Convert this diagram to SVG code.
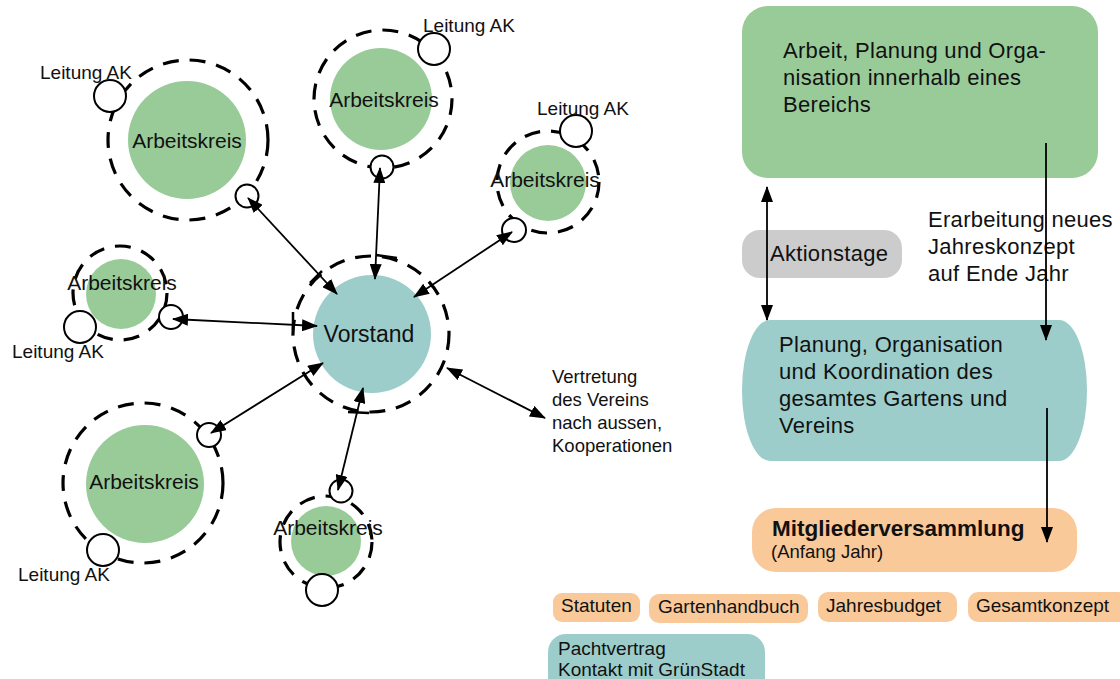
<svg xmlns="http://www.w3.org/2000/svg" width="1120" height="679" viewBox="0 0 1120 679">
<style>
.t{font-family:"Liberation Sans",Arial,sans-serif;fill:#111}
.akt{font-size:21px;text-anchor:middle}
.lt{font-size:19px}
.big{font-size:22px;letter-spacing:0.3px}
.sm{font-size:19px}
.ak{fill:#99cb99}
.ring{fill:none;stroke:#000;stroke-width:3.2;stroke-dasharray:16 11}
.ball{fill:#fff;stroke:#000;stroke-width:2}
.con{stroke:#000;stroke-width:1.8;fill:none}
.tick{stroke:#000;stroke-width:2.5;fill:none}
.or{fill:#f9c99a}
.te{fill:#9ccdcb}
</style>
<defs>
<marker id="ah" viewBox="0 0 16 12" refX="15" refY="6" markerWidth="16" markerHeight="12" markerUnits="userSpaceOnUse" orient="auto-start-reverse">
<path d="M0,0 L16,6 L0,12 Z" fill="#000"/>
</marker>
</defs>
<rect width="1120" height="679" fill="#fff"/>

<g id="ak1">
<circle cx="188" cy="140" r="80" class="ring"/>
<circle cx="187" cy="140" r="59" class="ak"/>
<text x="187" y="148" class="t akt">Arbeitskreis</text>
<circle cx="110" cy="96" r="16" class="ball"/>
<text x="40" y="79" class="t lt">Leitung AK</text>
<circle cx="247" cy="196" r="11.5" class="ball"/>
</g>

<g id="ak2">
<circle cx="383" cy="99" r="69" class="ring"/>
<circle cx="381" cy="99" r="51" class="ak"/>
<text x="384" y="107" class="t akt">Arbeitskreis</text>
<circle cx="434" cy="49" r="16" class="ball"/>
<text x="423" y="32" class="t lt">Leitung AK</text>
<circle cx="382" cy="167" r="11.5" class="ball"/>
</g>

<g id="ak3">
<circle cx="548" cy="182" r="51" class="ring"/>
<circle cx="548" cy="183" r="38" class="ak"/>
<text x="545" y="187" class="t akt">Arbeitskreis</text>
<circle cx="576" cy="131" r="16" class="ball"/>
<text x="537" y="115" class="t lt">Leitung AK</text>
<circle cx="514" cy="230" r="12" class="ball"/>
</g>

<g id="ak4">
<circle cx="120" cy="293" r="47" class="ring"/>
<circle cx="121" cy="294" r="35" class="ak"/>
<text x="122" y="290" class="t akt">Arbeitskreis</text>
<circle cx="80" cy="327" r="16" class="ball"/>
<text x="12" y="358" class="t lt">Leitung AK</text>
<circle cx="171" cy="317" r="12" class="ball"/>
</g>

<g id="ak5">
<circle cx="143" cy="483" r="80" class="ring"/>
<circle cx="145" cy="484" r="59" class="ak"/>
<text x="144" y="489" class="t akt">Arbeitskreis</text>
<circle cx="103" cy="550" r="16" class="ball"/>
<text x="18" y="581" class="t lt">Leitung AK</text>
<circle cx="209" cy="435" r="12" class="ball"/>
</g>

<g id="ak6">
<circle cx="326" cy="542" r="46" class="ring"/>
<circle cx="326" cy="541" r="35" class="ak"/>
<text x="328" y="535" class="t akt">Arbeitskreis</text>
<circle cx="322" cy="590" r="16" class="ball"/>
<circle cx="341" cy="491" r="11.5" class="ball"/>
</g>

<g id="vorstand">
<circle cx="371" cy="334" r="78" class="ring"/>
<circle cx="372" cy="334" r="59" class="te"/>
<text x="369" y="342" class="t" font-size="23" text-anchor="middle">Vorstand</text>
<path class="tick" d="M310,283 L322,271 M376,255 L397,258 M293,312 L293,330 M348,412 L369,413"/>
</g>

<g id="vertretung">
<text class="t" font-size="18.5"><tspan x="552" y="383">Vertretung</tspan><tspan x="552" y="406">des Vereins</tspan><tspan x="552" y="429">nach aussen,</tspan><tspan x="552" y="452">Kooperationen</tspan></text>
</g>

<g id="arbeit">
<rect x="742" y="6" width="356" height="172" rx="26" fill="#99cb99"/>
<text class="t big"><tspan x="783" y="58">Arbeit, Planung und Orga-</tspan><tspan x="783" y="85">nisation innerhalb eines</tspan><tspan x="783" y="112">Bereichs</tspan></text>
</g>

<g id="aktionstage">
<rect x="742" y="230" width="160" height="48" rx="18" fill="#cccccc"/>
<text x="770" y="261" class="t big">Aktionstage</text>
</g>

<g id="erarbeitung">
<text class="t big"><tspan x="928" y="227">Erarbeitung neues</tspan><tspan x="928" y="254">Jahreskonzept</tspan><tspan x="928" y="281">auf Ende Jahr</tspan></text>
</g>

<g id="planung">
<rect x="742" y="320" width="345" height="141" rx="28" ry="70" class="te"/>
<text class="t big"><tspan x="779" y="352">Planung, Organisation</tspan><tspan x="779" y="379">und Koordination des</tspan><tspan x="779" y="406">gesamtes Gartens und</tspan><tspan x="779" y="433">Vereins</tspan></text>
</g>

<g id="mv">
<rect x="752" y="508" width="325" height="64" rx="24" class="or"/>
<text x="772" y="536" class="t" font-size="22.5" font-weight="bold">Mitgliederversammlung</text>
<text x="771" y="558" class="t" font-size="18.5">(Anfang Jahr)</text>
</g>

<g id="statuten">
<rect x="553" y="593" width="87" height="29" rx="9" class="or"/>
<text x="561" y="612" class="t sm">Statuten</text>
</g>
<g id="gartenhandbuch">
<rect x="649" y="594" width="159" height="29" rx="10" class="or"/>
<text x="658" y="613" class="t sm">Gartenhandbuch</text>
</g>
<g id="jahresbudget">
<rect x="818" y="592" width="139" height="30" rx="10" class="or"/>
<text x="826" y="612" class="t sm">Jahresbudget</text>
</g>
<g id="gesamtkonzept">
<rect x="968" y="592" width="160" height="30" rx="10" class="or"/>
<text x="976" y="612" class="t sm">Gesamtkonzept</text>
</g>
<g id="pacht">
<rect x="548" y="634" width="217" height="62" rx="18" class="te"/>
<text class="t sm"><tspan x="558" y="655">Pachtvertrag</tspan><tspan x="558" y="676">Kontakt mit GrünStadt</tspan></text>
</g>

<g id="connectors">
<line class="con" x1="248" y1="198" x2="337" y2="294" marker-start="url(#ah)" marker-end="url(#ah)"/>
<line class="con" x1="380" y1="168" x2="375" y2="279" marker-start="url(#ah)" marker-end="url(#ah)"/>
<line class="con" x1="512" y1="232" x2="414" y2="297" marker-start="url(#ah)" marker-end="url(#ah)"/>
<line class="con" x1="173" y1="319" x2="317" y2="326" marker-start="url(#ah)" marker-end="url(#ah)"/>
<line class="con" x1="211" y1="433" x2="323" y2="363" marker-start="url(#ah)" marker-end="url(#ah)"/>
<line class="con" x1="338" y1="490" x2="363" y2="388" marker-start="url(#ah)" marker-end="url(#ah)"/>
<line class="con" x1="447" y1="368" x2="545" y2="418" marker-start="url(#ah)" marker-end="url(#ah)"/>
<line class="con" x1="767" y1="187" x2="767" y2="320" marker-start="url(#ah)" marker-end="url(#ah)"/>
<line class="con" x1="1046" y1="143" x2="1046" y2="340" marker-end="url(#ah)"/>
<line class="con" x1="1047" y1="408" x2="1047" y2="542" marker-end="url(#ah)"/>
</g>
</svg>
